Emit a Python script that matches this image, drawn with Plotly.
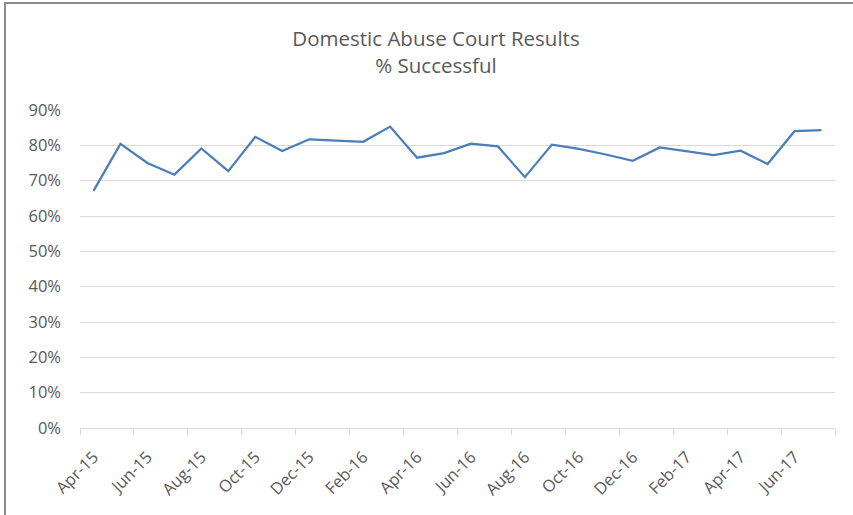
import plotly.graph_objects as go

months = ["Apr-15","May-15","Jun-15","Jul-15","Aug-15","Sep-15","Oct-15","Nov-15","Dec-15",
          "Jan-16","Feb-16","Mar-16","Apr-16","May-16","Jun-16","Jul-16","Aug-16","Sep-16",
          "Oct-16","Nov-16","Dec-16","Jan-17","Feb-17","Mar-17","Apr-17","May-17","Jun-17","Jul-17"]
success = [0.671,0.804,0.750,0.717,0.791,0.727,0.824,0.784,0.817,0.814,0.810,0.853,0.765,0.778,
           0.805,0.797,0.710,0.802,0.790,0.774,0.756,0.794,0.784,0.772,0.785,0.747,0.840,0.843]
y_ticks = [0,0.1,0.2,0.3,0.4,0.5,0.6,0.7,0.8,0.9]

idx = list(range(len(months)))
label_idx = idx[::2]
label_text = [months[i] for i in label_idx]
boundaries = [i - 0.5 for i in range(0, len(months) + 1, 2)]

font_family = "'Open Sans', sans-serif"
grey = "#595959"

fig = go.Figure()
fig.add_trace(go.Scatter(x=idx, y=success, mode="lines",
                         line=dict(color="#4A7EBB", width=2.25), showlegend=False,
                         hoverinfo="skip"))
# invisible trace on xaxis2 for boundary tick marks
fig.add_trace(go.Scatter(x=[boundaries[0], boundaries[-1]], y=[0, 0], xaxis="x2",
                         mode="lines", line=dict(width=0), showlegend=False, hoverinfo="skip"))

fig.update_layout(
    width=853, height=515,
    margin=dict(l=80, r=18, t=110, b=87, autoexpand=False),
    paper_bgcolor="white", plot_bgcolor="white",
    font=dict(family=font_family, color=grey),
    title=dict(text="Domestic Abuse Court Results<br>% Successful",
               x=436/853, xref="container", xanchor="center",
               y=1 - 46/515, yref="container", yanchor="top",
               font=dict(size=20.5, color=grey, family=font_family)),
    xaxis=dict(range=[-0.5, len(months) - 0.5], tickmode="array", tickvals=label_idx,
               ticktext=label_text, tickangle=-45, showgrid=False, zeroline=False,
               showline=True, linecolor="#D9D9D9", linewidth=1, ticks="",
               ticklabelstandoff=12, automargin=False,
               tickfont=dict(size=16.5, color=grey)),
    xaxis2=dict(range=[-0.5, len(months) - 0.5], overlaying="x", anchor="y", side="bottom",
                tickmode="array", tickvals=boundaries, showticklabels=False,
                ticks="outside", ticklen=6, tickcolor="#D9D9D9", tickwidth=1,
                showgrid=False, zeroline=False, showline=False),
    yaxis=dict(range=[0, 0.9], tickmode="array", tickvals=y_ticks, tickformat=".0%",
               showgrid=True, gridcolor="#D9D9D9", gridwidth=1, zeroline=False,
               showline=False, ticks="", ticklabelstandoff=18, automargin=False,
               tickfont=dict(size=16.5, color=grey)),
    shapes=[dict(type="rect", xref="paper", yref="paper",
                 x0=(5 - 80) / 755, x1=1.2, y0=-0.5, y1=(428 - 3) / 318,
                 line=dict(color="#8C8C8C", width=2), fillcolor="rgba(0,0,0,0)", layer="below")],
)

fig.write_html("out.html", config={"displayModeBar": False},
               post_script="document.body.style.margin='0';")
